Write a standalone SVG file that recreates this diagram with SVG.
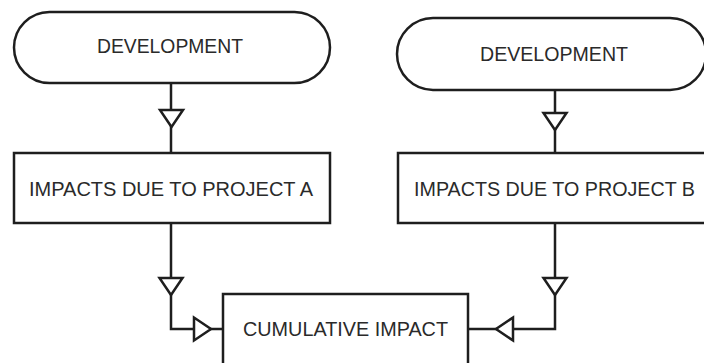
<svg xmlns="http://www.w3.org/2000/svg" xmlns:xlink="http://www.w3.org/1999/xlink" width="704" height="363" viewBox="0 0 704 363">
<style>
.shape{fill:#fff;stroke:#1e1e1e;stroke-width:2.5}
.lbl{font-family:"Liberation Sans",Arial,sans-serif;font-size:20.5px;fill:#2a2a2a;text-anchor:middle}
.wire{fill:none;stroke:#1e1e1e;stroke-width:2.5}
.head{fill:#fff;stroke:#1e1e1e;stroke-width:2.5;stroke-linejoin:miter}
</style>
<defs>
<path id="tri" d="M-11.5,-8.5 L11.5,-8.5 L0,8.5 Z" class="head"/>
</defs>
<rect width="704" height="363" fill="#fff"/>
<g id="connectors">
<path class="wire" d="M171,83 V153"/>
<path class="wire" d="M555,90 V153"/>
<path class="wire" d="M171,223 V329 H223"/>
<path class="wire" d="M555,223 V329 H468"/>
<use xlink:href="#tri" transform="translate(171.5,118.5)"/>
<use xlink:href="#tri" transform="translate(555,121.5)"/>
<use xlink:href="#tri" transform="translate(171,286.5)"/>
<use xlink:href="#tri" transform="translate(555,286.5)"/>
<use xlink:href="#tri" transform="translate(202.5,329) rotate(-90)"/>
<use xlink:href="#tri" transform="translate(504.5,329) rotate(90)"/>
</g>
<g id="devA">
<rect class="shape" x="14" y="12" width="316" height="71" rx="35.5" ry="35.5"/>
<text class="lbl" x="170" y="52.5" textLength="146" lengthAdjust="spacingAndGlyphs">DEVELOPMENT</text>
</g>
<g id="devB">
<rect class="shape" x="397" y="18" width="309" height="72" rx="36" ry="36"/>
<text class="lbl" x="554" y="60.5" textLength="148" lengthAdjust="spacingAndGlyphs">DEVELOPMENT</text>
</g>
<g id="impactA">
<rect class="shape" x="14" y="153" width="316" height="70"/>
<text class="lbl" x="171" y="195.5" textLength="284" lengthAdjust="spacingAndGlyphs">IMPACTS DUE TO PROJECT A</text>
</g>
<g id="impactB">
<rect class="shape" x="398" y="153" width="320" height="70"/>
<text class="lbl" x="554.5" y="195.5" textLength="281" lengthAdjust="spacingAndGlyphs">IMPACTS DUE TO PROJECT B</text>
</g>
<g id="cumulative">
<rect class="shape" x="223" y="294" width="245" height="85"/>
<text class="lbl" x="345.5" y="335.5" textLength="205" lengthAdjust="spacingAndGlyphs">CUMULATIVE IMPACT</text>
</g>
</svg>
